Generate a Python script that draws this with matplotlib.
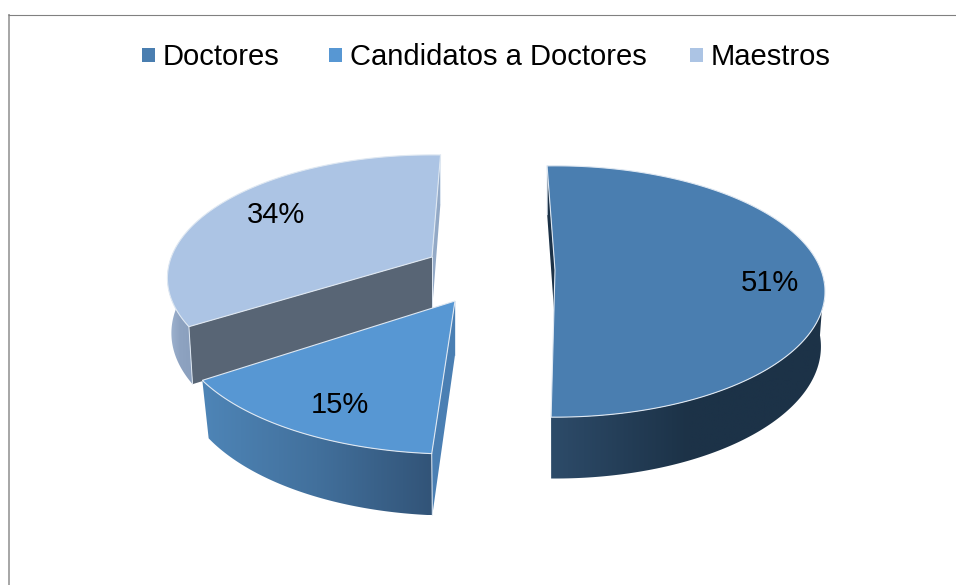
import numpy as np
import matplotlib
matplotlib.use("Agg")
import matplotlib.pyplot as plt
from matplotlib.colors import LinearSegmentedColormap
from matplotlib.patches import Polygon, Rectangle

plt.rcParams['font.family'] = ['Liberation Sans', 'DejaVu Sans']

categories = ["Doctores", "Candidatos a Doctores", "Maestros"]
values = [51, 15, 34]

# 3D look: one projection per slice, pixels on a 956x585 canvas
APEX = [(555, 270), (455, 301), (432, 257)]
SCALE = [1.0, 1.04, 0.98]
LOW_X = [0.985, 0.975, 0.985]
NUDGE = [(-2.0, -2.9), (0.4, -2.0), (0.4, 2.2)]  # deg, start and end of each arc
SIDE_FROM = [95, None, None]
SIDE_TO = [None, None, 275]
A, B, K = 266, 122, 0.171
DEPTH, LOW_Y = 54, 1.05

TOP = ['#4a7eb0', '#5797d3', '#acc4e4']
SIDE = [('#2d4b69', '#1c3247', '#1c3247'),
        ('#4e85b7', '#42709c', '#325478'),
        ('#a3b7d3', '#8ea3c1', '#8a9fbd')]
WALL_START = ['#1c3247', '#4a7fb3', '#586575']
WALL_END = [None, None, '#93a9c6']
EDGE = '#dfe8f2'

LABEL_POS = [(770, 283), (340, 405), (276, 215)]
LEGEND_X = [142, 329, 690]
LEGEND_TEXT_X = [163, 350, 711]


def project(t, i, low=False):
    apex, scale = APEX[i], SCALE[i]
    t = np.radians(t)
    u, v = np.sin(t), np.cos(t)
    den = 1 + K * v
    if low:
        return (apex[0] + scale * LOW_X[i] * A * u / den,
                apex[1] + DEPTH - scale * LOW_Y * B * v / den)
    return apex[0] + scale * A * u / den, apex[1] - scale * B * v / den


def wall(ax, t, i, color):
    apex = APEX[i]
    xa, ya = project(t, i)
    xb, yb = project(t, i, low=True)
    pts = [apex, (xa, ya), (xb, yb), (apex[0], apex[1] + DEPTH)]
    ax.add_patch(Polygon(pts, closed=True, fc=color, ec='none', zorder=2))
    ax.plot([apex[0], apex[0]], [apex[1], apex[1] + DEPTH], color=EDGE, lw=0.7, zorder=2.5)
    ax.plot([xa, xb], [ya, yb], color=EDGE, lw=0.7, zorder=3.5)


fig = plt.figure(figsize=(9.56, 5.85), dpi=100)
ax = fig.add_axes([0, 0, 1, 1])

# chart frame, only left and top are in the crop
ax.plot([9, 9], [14, 585], color='#a8a8a8', lw=1.44, solid_capstyle='butt')
ax.plot([8, 956], [14.5, 14.5], color='#808080', lw=0.8, solid_capstyle='butt')

cum = np.cumsum([0] + values) / sum(values) * 360
for i in [2, 1, 0]:
    t0, t1 = cum[i] + NUDGE[i][0], cum[i + 1] + NUDGE[i][1]
    arc = np.linspace(t0, t1, 200)
    x, y = project(arc, i)

    if WALL_START[i]:
        wall(ax, t0, i, WALL_START[i])
    if WALL_END[i]:
        wall(ax, t1, i, WALL_END[i])

    # outer side with its left to right shading
    s0 = SIDE_FROM[i] if SIDE_FROM[i] is not None else t0
    s1 = SIDE_TO[i] if SIDE_TO[i] is not None else t1
    ts = np.linspace(s0, s1, 200)
    xs, ys = project(ts, i)
    xl, yl = project(ts, i, low=True)
    outline = np.r_[np.c_[xs, ys], np.c_[xl, yl][::-1]]
    side = Polygon(outline, closed=True, fc='none', ec='none', transform=ax.transData)
    ax.add_patch(side)
    cmap = LinearSegmentedColormap.from_list("side", SIDE[i])
    grad = np.linspace(0, 1, 256)[None, :]
    im = ax.imshow(grad, cmap=cmap, vmin=0, vmax=1, aspect='auto', zorder=3,
                   extent=(outline[:, 0].min(), outline[:, 0].max(),
                           outline[:, 1].max(), outline[:, 1].min()))
    im.set_clip_path(side)

    # top face
    pts = np.r_[[APEX[i]], np.c_[x, y]]
    ax.add_patch(Polygon(pts, closed=True, fc=TOP[i], ec=EDGE, lw=0.8,
                         joinstyle='miter', zorder=4))
    ax.text(*LABEL_POS[i], f"{values[i]}%", fontsize=21, color='black',
            ha='center', va='center', zorder=6)

for name, color, lx, tx in zip(categories, TOP, LEGEND_X, LEGEND_TEXT_X):
    ax.add_patch(Rectangle((lx, 48), 13.5, 13.5, fc=color, ec='none', zorder=5))
    ax.text(tx, 54, name, fontsize=21, color='black', ha='left', va='center_baseline')

ax.set_xlim(0, 956)
ax.set_ylim(585, 0)
ax.axis('off')

fig.savefig("out.png", dpi=100)
plt.close(fig)
